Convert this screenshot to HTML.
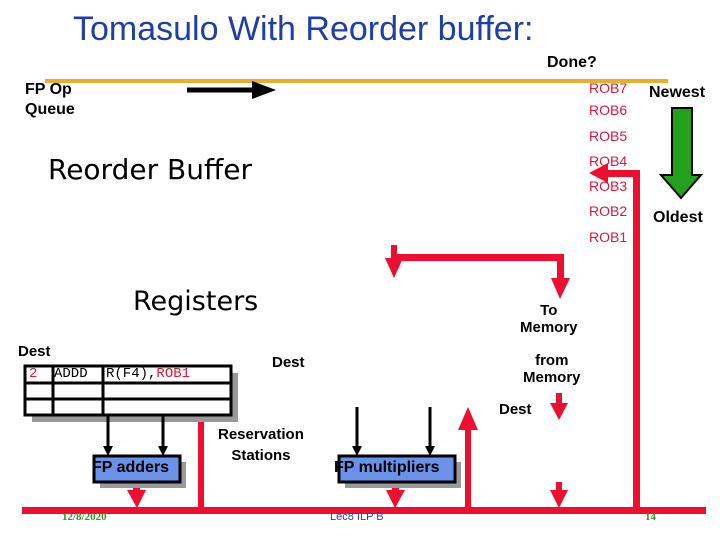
<!DOCTYPE html>
<html><head><meta charset="utf-8"><style>
body{margin:0;width:720px;height:540px;background:#fff;position:relative;overflow:hidden;font-family:"Liberation Sans",sans-serif}
.t{position:absolute;white-space:nowrap;font-weight:bold;line-height:1}
.r{color:#d81a3a;font-size:14px;font-weight:normal}
</style></head><body>
<div class="t" style="left:73px;top:12px;font-size:34px;color:#1f3ea8;font-weight:normal">Tomasulo With Reorder buffer:</div>
<div class="t" style="left:547px;top:55px;font-size:16px">Done?</div>
<div class="t" style="left:25px;top:80px;font-size:16px;line-height:20px">FP Op<br>Queue</div>
<div class="t r" style="left:589px;top:81px">ROB7</div>
<div class="t r" style="left:589px;top:103px">ROB6</div>
<div class="t r" style="left:589px;top:129px">ROB5</div>
<div class="t r" style="left:589px;top:154px">ROB4</div>
<div class="t r" style="left:589px;top:179px">ROB3</div>
<div class="t r" style="left:589px;top:204px">ROB2</div>
<div class="t r" style="left:589px;top:230px">ROB1</div>
<div class="t" style="left:649px;top:85px;font-size:16px">Newest</div>
<div class="t" style="left:653px;top:210px;font-size:16px">Oldest</div>
<div class="t" style="left:48px;top:156px;font-size:28px;font-weight:normal;font-family:'DejaVu Sans',sans-serif">Reorder Buffer</div>
<div class="t" style="left:133px;top:288px;font-size:27px;font-weight:normal;font-family:'DejaVu Sans',sans-serif">Registers</div>
<div class="t" style="left:520px;top:302px;font-size:15px;text-align:center;line-height:17px">To<br>Memory</div>
<div class="t" style="left:523px;top:352px;font-size:15px;text-align:center;line-height:17px">from<br>Memory</div>
<div class="t" style="left:499px;top:402px;font-size:15px">Dest</div>
<div class="t" style="left:18px;top:344px;font-size:15px">Dest</div>
<div class="t" style="left:272px;top:355px;font-size:15px">Dest</div>
<div class="t" style="left:218px;top:424px;font-size:15px;text-align:center;line-height:21px">Reservation<br>Stations</div>
<svg width="720" height="540" style="position:absolute;left:0;top:0">
<line x1="45" y1="81" x2="668" y2="81" stroke="#e8b02a" stroke-width="4"/>
<line x1="187" y1="90" x2="255" y2="90" stroke="#000" stroke-width="5"/>
<polygon points="252,81 276,90 252,99" fill="#000"/>
<polygon points="672,108 692,108 692,175 701,175 681,198 661,175 672,175" fill="#22a01e" stroke="#000" stroke-width="2"/>
<g fill="#ee0f30" stroke="none">
<rect x="633" y="170" width="7" height="342"/>
<rect x="605" y="170" width="35" height="7"/>
<polygon points="589,173 608,163 608,183"/>
<rect x="391" y="254" width="172" height="7"/>
<rect x="391" y="245" width="6" height="16"/><polygon points="385,258 403,258 394,278"/>
<rect x="557" y="254" width="7" height="26"/><polygon points="551,278 570,278 560,299"/>
<rect x="556" y="393" width="6" height="12"/><polygon points="550,403 568,403 559,420"/>
<rect x="22" y="507" width="684" height="7"/>
<rect x="133" y="480" width="7" height="12"/><polygon points="127,490 146,490 137,508"/>
<rect x="198" y="385" width="6" height="122"/><polygon points="191,388 211,388 201,366"/>
<rect x="392" y="480" width="7" height="12"/><polygon points="386,490 405,490 395,508"/>
<rect x="465" y="428" width="6" height="80"/><polygon points="458,430 478,430 468,407"/>
<rect x="556" y="482" width="6" height="10"/><polygon points="550,490 568,490 559,508"/>
</g>
<rect x="32" y="373" width="206" height="49" fill="#999"/>
<rect x="25" y="366" width="206" height="49" fill="#fff" stroke="#000" stroke-width="3"/>
<line x1="25" y1="383" x2="231" y2="383" stroke="#000" stroke-width="3"/>
<line x1="25" y1="399" x2="231" y2="399" stroke="#000" stroke-width="3"/>
<line x1="53" y1="366" x2="53" y2="415" stroke="#000" stroke-width="3"/>
<line x1="103" y1="366" x2="103" y2="415" stroke="#000" stroke-width="3"/>
<g stroke="#000" stroke-width="3"><line x1="108" y1="415" x2="108" y2="448"/><line x1="163" y1="415" x2="163" y2="448"/>
<line x1="357" y1="407" x2="357" y2="448"/><line x1="430" y1="407" x2="430" y2="448"/></g>
<g fill="#000"><polygon points="103,446 113,446 108,456"/><polygon points="158,446 168,446 163,456"/>
<polygon points="352,446 362,446 357,456"/><polygon points="425,446 435,446 430,456"/></g>
<rect x="100" y="462" width="86" height="26" fill="#999"/>
<rect x="94" y="456" width="86" height="26" fill="#6a92e8" stroke="#000" stroke-width="3"/>
<rect x="345" y="462" width="116" height="26" fill="#999"/>
<rect x="339" y="456" width="116" height="26" fill="#6a92e8" stroke="#000" stroke-width="3"/>
</svg>
<div class="t" style="left:29px;top:367px;font-size:14px;font-family:'Liberation Mono',monospace;font-weight:normal;color:#d81a3a">2</div>
<div class="t" style="left:54px;top:367px;font-size:14px;font-family:'Liberation Mono',monospace;font-weight:normal">ADDD</div>
<div class="t" style="left:106px;top:367px;font-size:14px;font-family:'Liberation Mono',monospace;font-weight:normal">R(F4),<span style="color:#d81a3a">ROB1</span></div>
<div class="t" style="left:92px;top:460px;font-size:16px">FP adders</div>
<div class="t" style="left:334px;top:460px;font-size:16px">FP multipliers</div>
<div class="t" style="left:62px;top:512px;font-size:11px;color:#2a9a2a;font-family:'Liberation Serif',serif">12/8/2020</div>
<div class="t" style="left:330px;top:512px;font-size:11px;color:#2a3eb8;font-weight:normal">Lec8 ILP B</div>
<div class="t" style="left:645px;top:512px;font-size:11px;color:#2a9a2a;font-family:'Liberation Serif',serif">14</div>
</body></html>
